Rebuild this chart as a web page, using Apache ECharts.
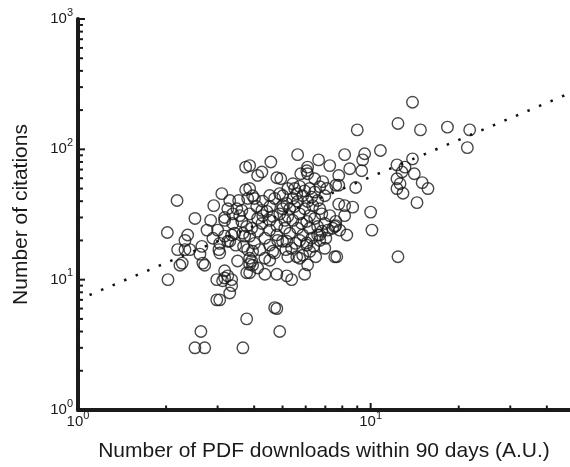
<!DOCTYPE html>
<html>
<head>
<meta charset="utf-8">
<script src="https://cdn.jsdelivr.net/npm/echarts@6/dist/echarts.min.js"></script>
<style>
html,body{margin:0;padding:0;background:#fff;}
#chart{width:570px;height:467px;}
</style>
</head>
<body>
<div id="chart"></div>
<script>
// ---- data ----
const downloads = [
13.9,12.4,9.0,14.8,18.3,21.8,21.4,10.8,13.9,5.63,6.64,8.15,9.54,9.39,7.25,8.48,9.32,6.09,6.09,5.77,
7.78,7.60,7.78,8.89,12.3,13.1,12.8,12.3,12.6,12.3,12.9,14.1,15.0,15.7,14.4,10.0,10.1,8.29,7.78,8.15,
8.68,8.15,7.6,7.6,7.54,7.66,12.4,6.7,6.7,4.56,4.25,4.11,3.86,4.78,4.93,6.05,5.42,3.86,3.95,4.28,
4.52,4.08,5.0,5.17,7.25,3.74,3.74,2.18,3.10,2.91,3.30,3.54,3.80,2.51,2.02,2.76,3.49,3.57,3.38,3.17,
2.37,2.32,2.19,2.32,2.41,2.65,2.61,2.67,2.27,3.05,3.03,3.05,3.35,3.30,3.66,3.63,3.77,3.92,3.71,3.86,
4.18,4.52,3.51,3.92,3.86,4.63,4.81,4.78,5.17,5.0,4.52,4.78,5.09,4.63,5.29,5.0,5.59,5.86,5.72,6.19,
6.05,5.72,6.05,5.86,5.72,6.19,4.25,4.42,3.17,3.43,3.25,3.86,3.95,3.17,3.25,3.35,3.17,2.98,3.12,3.35,
3.30,3.77,2.98,3.05,3.77,2.63,2.51,2.71,3.66,2.03,2.23,2.71,7.54,7.42,6.59,6.81,6.05,5.59,6.09,5.95,
5.37,5.17,4.78,4.35,5.21,4.70,3.95,3.86,4.78,4.70,4.89,
5.50,5.72,5.95,6.19,6.44,6.70,6.29,6.59,6.09,5.63,5.42,6.34,6.70,5.95,5.50,6.97,6.81,6.44,5.81,5.42,
5.21,5.63,6.19,6.59,6.97,5.29,5.86,6.29,5.54,5.09,4.89,4.25,4.11,4.35,4.52,4.01,4.28,4.11,3.63,3.86,
4.01,3.25,3.38,3.0,2.84,2.89,3.17,3.46,3.68,3.80,4.89,4.70,4.52,5.01,5.21,6.44,6.86,7.08,5.37,5.13,
4.35,4.52,4.11,6.39,6.49,7.03,7.14,7.84,6.97
];
const citations = [
230,158,141,141,148,141,103,98,84.5,91,83,91,92.5,83,75,71,68.5,73,65,65,
63,53,53,51,76,73,67,59.5,54.5,50,46,65,55.5,50,39,33,24,22,38,37,
36,31,28,26,15,15,15,22,20,80,67,63,75,60.5,59.5,68.5,54.5,50,44,40,
36.4,36.4,37,38.4,31,73,49,40.5,45.7,37,40.5,40.5,42,29.5,23,24,35,31,32,30,
22,20,17,17,17,18,15.7,13.4,13.4,19,17,16,22,19.7,22.7,28,25.6,24.8,21.6,21.6,
17,18.4,13.9,13.9,13.1,16.5,20,22,19.7,19.7,28.5,26,24.8,30.6,35,35,45.7,44,32,31,
28,20,18.4,15.4,14.6,16.5,34,33.4,28.5,22.7,19.7,14.6,16.5,11.7,10.7,10,10.3,10,9.8,9,
7.9,11.3,7,7,5,4,3,3,3,10,12.9,12.9,25.6,24.8,22,23.5,19.1,15,13,11,
10,10.7,11,11,15,16,12.9,11.3,6,6.1,4,
50,52,48,50,47,51.7,43,40.5,39.8,39.8,42,37,35,35,36.4,44,32,29.5,27,28.5,
30.6,24.8,24.8,25.6,27,22.7,22,20.8,19,28.5,32,27,23.5,20.8,24,19,31,29.5,34,32,
42,35,27,24,28.5,20.8,21.6,18.4,18,17,45.7,42,44.2,44,50,59.5,56.5,50,17.4,17,
14.6,14.1,12.3,18,15,20.8,24,24,17.4
];
const trendX = [1, 48];
const trendY = [7.0, 270];
const xMajorTicks = [1, 10];
const xMinorTicks = [2, 3, 4, 5, 6, 7, 8, 9, 20, 30, 40];
const yMajorTicks = [1, 10, 100, 1000];
const yMinorTicks = [2, 3, 4, 5, 6, 7, 8, 9, 20, 30, 40, 50, 60, 70, 80, 90, 200, 300, 400, 500, 600, 700, 800, 900];
const xTitle = 'Number of PDF downloads within 90 days (A.U.)';
const yTitle = 'Number of citations';

// ---- chart ----
const FONT = 'Liberation Sans, Arial, Helvetica, sans-serif';
const INK = '#1a1a1a';
const chart = echarts.init(document.getElementById('chart'));

function powLabel(v) {
  const e = Math.log10(v);
  if (Math.abs(e - Math.round(e)) > 1e-6) return '';
  return '{b|10}{e|' + Math.round(e) + '}';
}
const richStyle = {
  b: { fontSize: 15, lineHeight: 24, fontFamily: FONT, color: INK },
  e: { fontSize: 11, lineHeight: 11, verticalAlign: 'top', fontFamily: FONT, color: INK }
};

function tickSeries(values, isX, len) {
  return {
    type: 'custom',
    coordinateSystem: 'cartesian2d',
    clip: false,
    silent: true,
    z: 5,
    data: values.map(v => isX ? [v, yMajorTicks[0]] : [xMajorTicks[0], v]),
    renderItem: function (params, api) {
      const p = api.coord([api.value(0), api.value(1)]);
      const shape = isX
        ? { x1: p[0], y1: p[1], x2: p[0], y2: p[1] - len }
        : { x1: p[0], y1: p[1], x2: p[0] + len, y2: p[1] };
      return { type: 'line', shape: shape, style: { stroke: INK, lineWidth: 2 } };
    }
  };
}

const points = downloads.map((d, i) => [d, citations[i]]);
const trend = trendX.map((x, i) => [x, trendY[i]]);

chart.setOption({
  animation: false,
  backgroundColor: '#fff',
  grid: { left: 78, right: 0, top: 19, bottom: 54, containLabel: false },
  xAxis: {
    type: 'log', logBase: 10, min: 1, max: 48,
    name: xTitle, nameLocation: 'middle', nameGap: 31,
    nameTextStyle: { fontFamily: FONT, fontSize: 21, color: INK },
    axisLine: { show: true, lineStyle: { color: INK, width: 4 } },
    axisTick: { show: false },
    splitLine: { show: false },
    axisLabel: { margin: 0, formatter: powLabel, rich: richStyle, showMaxLabel: false }
  },
  yAxis: {
    type: 'log', logBase: 10, min: 1, max: 1000,
    name: yTitle, nameLocation: 'middle', nameGap: 46,
    nameTextStyle: { fontFamily: FONT, fontSize: 21, color: INK },
    axisLine: { show: true, lineStyle: { color: INK, width: 4 } },
    axisTick: { show: false },
    splitLine: { show: false },
    axisLabel: { margin: 5, formatter: powLabel, rich: richStyle }
  },
  series: [
    {
      type: 'scatter',
      data: points,
      symbol: 'circle',
      symbolSize: 11.5,
      itemStyle: { color: 'rgba(0,0,0,0)', borderColor: INK, borderWidth: 1.4 },
      z: 3
    },
    {
      type: 'line',
      data: trend,
      symbol: 'none',
      lineStyle: { color: '#111', width: 2.5, type: [2.5, 10], cap: 'butt' },
      z: 4
    },
    tickSeries(xMajorTicks, true, 7),
    tickSeries(xMinorTicks, true, 4.5),
    tickSeries(yMajorTicks, false, 7),
    tickSeries(yMinorTicks, false, 5)
  ]
});
</script>
</body>
</html>
